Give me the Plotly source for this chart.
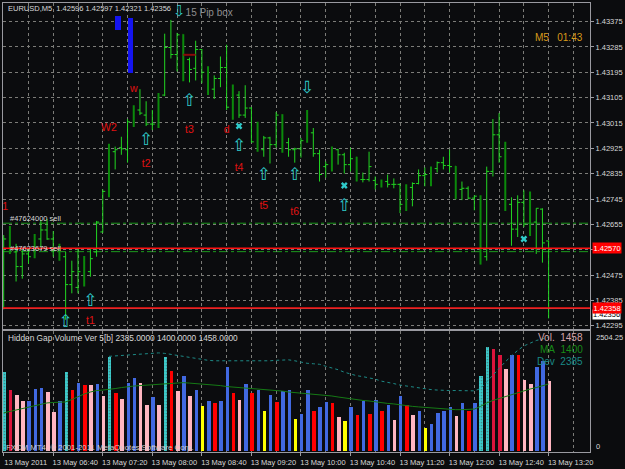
import plotly.graph_objects as go
import pandas as pd

# ---------------- data ----------------
times = pd.date_range("2011-05-13 06:00", periods=89, freq="5min")

open_ = [1.42568, 1.42603, 1.42557, 1.42505, 1.42550, 1.42540, 1.42603, 1.42635, 1.42603, 1.42561,
         1.42540, 1.42441, 1.42431, 1.42487, 1.42487, 1.42557, 1.42628, 1.42772, 1.42913, 1.42927,
         1.42920, 1.43019, 1.43061, 1.43043, 1.43011, 1.43008, 1.43114, 1.43283, 1.43258, 1.43328,
         1.43240, 1.43209, 1.43276, 1.43195, 1.43135, 1.43173, 1.43212, 1.43071, 1.43114, 1.43043,
         1.43068, 1.42948, 1.42920, 1.42962, 1.42938, 1.43043, 1.42945, 1.42920, 1.42923, 1.42948,
         1.42980, 1.42906, 1.42860, 1.42867, 1.42920, 1.42902, 1.42867, 1.42892, 1.42814, 1.42814,
         1.42811, 1.42797, 1.42807, 1.42797, 1.42797, 1.42726, 1.42786, 1.42800, 1.42828, 1.42832,
         1.42853, 1.42874, 1.42864, 1.42860, 1.42779, 1.42783, 1.42748, 1.42755, 1.42540, 1.42843,
         1.42973, 1.42895, 1.42726, 1.42638, 1.42733, 1.42733, 1.42663, 1.42709, 1.42596]
high = [1.42617, 1.42649, 1.42586, 1.42565, 1.42568, 1.42621, 1.42670, 1.42674, 1.42631, 1.42586,
        1.42557, 1.42526, 1.42568, 1.42543, 1.42568, 1.42667, 1.42779, 1.42941, 1.42931, 1.42966,
        1.43029, 1.43078, 1.43135, 1.43092, 1.43061, 1.43121, 1.43332, 1.43381, 1.43335, 1.43330,
        1.43247, 1.43307, 1.43278, 1.43216, 1.43184, 1.43251, 1.43293, 1.43152, 1.43128, 1.43149,
        1.43071, 1.43019, 1.42969, 1.42966, 1.43054, 1.43046, 1.42962, 1.42927, 1.42962, 1.43061,
        1.42997, 1.42920, 1.42878, 1.42931, 1.42923, 1.42909, 1.42927, 1.42895, 1.42839, 1.42913,
        1.42825, 1.42814, 1.42832, 1.42818, 1.42800, 1.42797, 1.42804, 1.42850, 1.42857, 1.42860,
        1.42878, 1.42895, 1.42920, 1.42862, 1.42807, 1.42790, 1.42758, 1.42758, 1.42860, 1.43029,
        1.43050, 1.42948, 1.42751, 1.42758, 1.42776, 1.42772, 1.42712, 1.42712, 1.42597]
low = [1.42353, 1.42550, 1.42452, 1.42462, 1.42515, 1.42535, 1.42568, 1.42600, 1.42540, 1.42526,
       1.42316, 1.42410, 1.42410, 1.42434, 1.42469, 1.42540, 1.42625, 1.42751, 1.42850, 1.42902,
       1.42874, 1.43001, 1.43043, 1.43004, 1.42990, 1.42997, 1.43110, 1.43244, 1.43198, 1.43163,
       1.43159, 1.43166, 1.43156, 1.43114, 1.43100, 1.43142, 1.43061, 1.43026, 1.43033, 1.43033,
       1.42945, 1.42913, 1.42895, 1.42871, 1.42927, 1.42909, 1.42895, 1.42874, 1.42892, 1.42945,
       1.42895, 1.42807, 1.42821, 1.42843, 1.42867, 1.42835, 1.42843, 1.42807, 1.42804, 1.42807,
       1.42779, 1.42786, 1.42786, 1.42783, 1.42695, 1.42702, 1.42719, 1.42797, 1.42790, 1.42790,
       1.42839, 1.42850, 1.42839, 1.42744, 1.42741, 1.42744, 1.42705, 1.42512, 1.42526, 1.42825,
       1.42874, 1.42702, 1.42579, 1.42610, 1.42645, 1.42614, 1.42550, 1.42519, 1.42321]
close = [1.42603, 1.42568, 1.42505, 1.42550, 1.42540, 1.42603, 1.42635, 1.42603, 1.42561, 1.42540,
         1.42441, 1.42487, 1.42487, 1.42452, 1.42533, 1.42663, 1.42772, 1.42920, 1.42920, 1.42923,
         1.43019, 1.43061, 1.43050, 1.43011, 1.43011, 1.43114, 1.43283, 1.43258, 1.43328, 1.43237,
         1.43205, 1.43276, 1.43195, 1.43135, 1.43173, 1.43212, 1.43071, 1.43138, 1.43043, 1.43068,
         1.42948, 1.42920, 1.42962, 1.42938, 1.43043, 1.42941, 1.42920, 1.42923, 1.42952, 1.42980,
         1.42906, 1.42832, 1.42867, 1.42920, 1.42902, 1.42867, 1.42888, 1.42814, 1.42814, 1.42860,
         1.42797, 1.42807, 1.42797, 1.42797, 1.42726, 1.42786, 1.42800, 1.42828, 1.42832, 1.42853,
         1.42874, 1.42864, 1.42860, 1.42779, 1.42783, 1.42748, 1.42755, 1.42515, 1.42843, 1.42973,
         1.42895, 1.42726, 1.42638, 1.42733, 1.42656, 1.42663, 1.42712, 1.42589, 1.42356]

volume = [1656, 1263, 1159, 1035, 1049, 1298, 1304, 1221, 822, 1035,
          1650, 1283, 1422, 1387, 1372, 1401, 1145, 1967, 1215, 1083,
          1422, 1532, 1422, 952, 1132, 952, 1967, 1677, 1248, 1567,
          1145, 1277, 938, 1035, 1000, 1049, 1753, 1215, 1056, 1408,
          1201, 1283, 842, 1159, 1014, 1248, 1263, 669, 772, 1283,
          828, 917, 1014, 1000, 718, 627, 917, 760, 1035, 772,
          1062, 828, 958, 642, 1145, 952, 745, 834, 470, 559,
          787, 842, 917, 725, 1000, 842, 994, 1567, 2167, 2132,
          2008, 1718, 2008, 2008, 1476, 1408, 1760, 1877, 1458]
vol_class = ["cyan", "crimson", "pink", "pink", "blue", "blue", "blue", "pink", "pink", "blue",
             "cyan", "red", "blue", "red", "pink", "blue", "pink", "cyan", "red", "pink",
             "blue", "blue", "pink", "pink", "blue", "pink", "cyan", "red", "pink", "blue",
             "pink", "blue", "yellow", "blue", "red", "blue", "blue", "red", "pink", "blue",
             "red", "blue", "yellow", "blue", "red", "blue", "blue", "yellow", "blue", "blue",
             "red", "blue", "blue", "red", "pink", "yellow", "blue", "red", "blue", "red",
             "blue", "red", "blue", "pink", "blue", "red", "pink", "blue", "yellow", "blue",
             "blue", "blue", "blue", "pink", "blue", "red", "blue", "cyan", "cyan", "crimson",
             "crimson", "pink", "blue", "red", "pink", "pink", "blue", "blue", "pink"]
vol_ma = [797, 828, 859, 890, 921, 952, 983, 1004, 1014, 1014,
          1025, 1076, 1139, 1190, 1232, 1263, 1273, 1283, 1304, 1325,
          1346, 1356, 1366, 1377, 1387, 1397, 1408, 1418, 1428, 1428,
          1418, 1408, 1408, 1387, 1377, 1366, 1346, 1335, 1325, 1314,
          1304, 1294, 1294, 1283, 1263, 1252, 1232, 1221, 1211, 1201,
          1190, 1180, 1159, 1149, 1128, 1107, 1087, 1066, 1056, 1045,
          1025, 1014, 994, 983, 963, 942, 932, 921, 911, 890,
          880, 869, 863, 863, 863, 869, 876, 932, 1004, 1056,
          1097, 1128, 1180, 1221, 1263, 1294, 1325, 1356, 1400]
vol_dev = [None] * 17 + [1977, 1987, 1998,
           2008, 2018, 2029, 2039, 2049, 2049, 2039, 2018, 1998, 1977,
           1956, 1925, 1904, 1894, 1884, 1884, 1877, 1877, 1877, 1877,
           1877, 1877, 1877, 1884, 1894, 1904, 1904, 1884, 1853, 1832,
           1822, 1811, 1770, 1739, 1698, 1646, 1604, 1573, 1553, 1532,
           1501, 1459, 1439, 1408, 1377, 1356, 1346, 1325, 1304, 1283,
           1273, 1263, 1263, 1263, 1259, 1256, 1256, 1304, 1449, 1594,
           1739, 1863, 1987, 2101, 2194, 2256, 2308, 2339, 2385]

# axis ticks
label_times = ["2011-05-13 06:00", "2011-05-13 06:40", "2011-05-13 07:20", "2011-05-13 08:00",
               "2011-05-13 08:40", "2011-05-13 09:20", "2011-05-13 10:00", "2011-05-13 10:40",
               "2011-05-13 11:20", "2011-05-13 12:00", "2011-05-13 12:40", "2011-05-13 13:20"]
label_text = ["13 May 2011", "13 May 06:40", "13 May 07:20", "13 May 08:00", "13 May 08:40",
              "13 May 09:20", "13 May 10:00", "13 May 10:40", "13 May 11:20", "13 May 12:00",
              "13 May 12:40", "13 May 13:20"]
price_ticks = [1.42295, 1.42385, 1.42475, 1.42565, 1.42655, 1.42745, 1.42835, 1.42925,
               1.43015, 1.43105, 1.43195, 1.43285, 1.43375]
price_tick_text = ["1.42295", "1.42385", "1.42475", "", "1.42655", "1.42745", "1.42835",
                   "1.42925", "1.43015", "1.43105", "1.43195", "1.43285", "1.43375"]

# signal texts (bar number, price)
sig_text = ["w", "W2", "t1", "t2", "t3", "d", "t4", "t5", "t6", "/1"]
sig_bar = [22, 18, 15, 24, 31, 37, 39, 43, 48, 1]
sig_price = [1.43135, 1.42997, 1.42311, 1.42867, 1.42990, 1.42990, 1.42853, 1.42719, 1.42698, 1.42716]

up_bar = [24, 31, 39, 43, 48, 56, 15, 11]
up_price = [1.42952, 1.43092, 1.42931, 1.42828, 1.42828, 1.42719, 1.42381, 1.42305]
down_bar = [50]
down_price = [1.43138]
star_bar = [39, 56, 85]
star_price = [1.43004, 1.42793, 1.42603]

box_bar = [19, 21]
box_low = [1.43346, 1.43191]
box_high = [1.43395, 1.43388]

mark_bars = [30, 32]
mark_level = 1.43257

red_levels = [1.42570, 1.42358]
order_levels = [1.42659, 1.42558]
order_labels = ["#47624000 sell", "#47623679 sell"]
bid = close[-1]

# ---------------- styling ----------------
BG = "#0b0c0e"
LIME = "#22d622"
DARK = "#0b8a0b"
CYAN = "#2fcaca"
GRID = "#7c7c78"
FRAME = "#9a9aa0"
TXT = "#d8d8d8"
FONT = "Liberation Sans"
vol_colors = {"cyan": "#3ccccc", "crimson": "#dc143c", "pink": "#ffb6c1",
              "blue": "#4169e1", "red": "#ff0000", "yellow": "#ffff00"}

t_start = pd.Timestamp("2011-05-13 05:59:26")
t_end = pd.Timestamp("2011-05-13 13:53:24")

fig = go.Figure()

thin = [i for i in range(len(times)) if (i + 1) % 4 != 2]
thick = [i for i in range(len(times)) if (i + 1) % 4 == 2]


def pick(a, idx):
    return [a[i] for i in idx]


fig.add_trace(go.Ohlc(x=pick(times, thin), open=pick(open_, thin), high=pick(high, thin),
                      low=pick(low, thin), close=pick(close, thin), tickwidth=0.4,
                      increasing=dict(line=dict(color=LIME, width=1)),
                      decreasing=dict(line=dict(color=LIME, width=1)),
                      xaxis="x", yaxis="y", hoverinfo="skip"))
fig.add_trace(go.Ohlc(x=pick(times, thick), open=pick(open_, thick), high=pick(high, thick),
                      low=pick(low, thick), close=pick(close, thick), tickwidth=0.1,
                      increasing=dict(line=dict(color=DARK, width=2)),
                      decreasing=dict(line=dict(color=DARK, width=2)),
                      xaxis="x", yaxis="y", hoverinfo="skip"))

# blue boxes
fig.add_trace(go.Bar(x=[times[b - 1] for b in box_bar],
                     y=[h - l for h, l in zip(box_high, box_low)], base=box_low,
                     width=280000, offset=0, marker=dict(color="#1414f0", line=dict(width=0)),
                     xaxis="x", yaxis="y", hoverinfo="skip"))
# dark red mark
fig.add_trace(go.Scatter(x=[times[b - 1] for b in mark_bars], y=[mark_level, mark_level],
                         mode="lines", line=dict(color="#8b0a0a", width=2),
                         xaxis="x", yaxis="y", hoverinfo="skip"))

# signal texts
fig.add_trace(go.Scatter(x=[times[b - 1] for b in sig_bar], y=sig_price, mode="text",
                         text=sig_text, textfont=dict(color="#e01212", size=10.5, family=FONT),
                         xaxis="x", yaxis="y", cliponaxis=True, hoverinfo="skip"))
fig.add_trace(go.Scatter(x=[times[b - 1] for b in up_bar], y=up_price, mode="text",
                         text=["\u21e7"] * len(up_bar),
                         textfont=dict(color=CYAN, size=17, family="DejaVu Sans"),
                         xaxis="x", yaxis="y", cliponaxis=True, hoverinfo="skip"))
fig.add_trace(go.Scatter(x=[times[b - 1] for b in down_bar], y=down_price, mode="text",
                         text=["\u21e9"] * len(down_bar),
                         textfont=dict(color=CYAN, size=17, family="DejaVu Sans"),
                         xaxis="x", yaxis="y", cliponaxis=True, hoverinfo="skip"))
fig.add_trace(go.Scatter(x=[times[b - 1] for b in star_bar], y=star_price, mode="markers",
                         marker=dict(symbol="x", size=6, color=CYAN, line=dict(width=0)),
                         xaxis="x", yaxis="y", hoverinfo="skip"))

# volume pane
fig.add_trace(go.Bar(x=times, y=volume, width=170000, offset=-50000,
                     marker=dict(color=[vol_colors[c] for c in vol_class], line=dict(width=0),
                                 pattern=dict(shape=["." if c == "cyan" else "" for c in vol_class],
                                              fgcolor="#1f9a9a", size=3, solidity=0.25)),
                     xaxis="x2", yaxis="y2", hoverinfo="skip"))
fig.add_trace(go.Scatter(x=times, y=vol_ma, mode="lines", line=dict(color="#157a15", width=1),
                         xaxis="x2", yaxis="y2", hoverinfo="skip"))
fig.add_trace(go.Scatter(x=times, y=vol_dev, mode="lines",
                         line=dict(color="#1d8a86", width=1, dash="dot"),
                         xaxis="x2", yaxis="y2", hoverinfo="skip"))

shapes = []
for lv in order_levels:
    shapes.append(dict(type="line", xref="x domain", yref="y", x0=0, x1=1, y0=lv, y1=lv,
                       line=dict(color="#1c9a1c", width=1, dash="dashdot"), layer="below"))
shapes.append(dict(type="line", xref="x domain", yref="y", x0=0, x1=1, y0=bid, y1=bid,
                   line=dict(color="#8a8a8a", width=1)))
for lv in red_levels:
    shapes.append(dict(type="line", xref="x domain", yref="y", x0=0, x1=1, y0=lv, y1=lv,
                       line=dict(color="#ff1010", width=1.5)))

ann = []
sm = dict(family=FONT, size=7.5, color=TXT)
ann.append(dict(xref="paper", yref="paper", x=0.005, y=0.9868, xanchor="left", yanchor="middle",
                text="EURUSD,M5\u00a0\u00a01.42596 1.42597 1.42321 1.42356", showarrow=False, font=sm))
ann.append(dict(xref="paper", yref="paper", x=0.287, y=0.9823, xanchor="left", yanchor="middle",
                text="<span style='color:%s;font-family:DejaVu Sans;font-size:15px'>\u21e9</span>15 Pip box" % CYAN,
                showarrow=False, font=dict(family=FONT, size=10, color="#8e8e8e")))
ann.append(dict(xref="paper", yref="paper", x=0.9916, y=0.9227, xanchor="right", yanchor="middle",
                text="M5\u00a0\u00a0\u00a001:43", showarrow=False,
                font=dict(family=FONT, size=10, color="#d89a1a")))
for lv, lab, ys in zip(order_levels, order_labels, [4.5, 3.5]):
    ann.append(dict(xref="paper", yref="y", x=0.0085, y=lv, yshift=ys, xanchor="left",
                    yanchor="middle", text=lab, showarrow=False, font=sm))
# price boxes on the right
ann.append(dict(xref="paper", yref="y", x=1, xshift=2, y=bid, yshift=-6, xanchor="left",
                yanchor="middle", text="%.5f" % bid, showarrow=False, bgcolor="#ffffff",
                borderpad=0, font=dict(family=FONT, size=7.5, color="#000000")))
for lv in red_levels:
    ann.append(dict(xref="paper", yref="y", x=1, xshift=2, y=lv, xanchor="left",
                    yanchor="middle", text="%.5f" % lv, showarrow=False, bgcolor="#ff0000",
                    borderpad=0.5, font=dict(family=FONT, size=7.5, color="#ffffff")))
# volume pane texts
ann.append(dict(xref="paper", yref="paper", x=0.005, y=0.2539, xanchor="left", yanchor="middle",
                text="Hidden Gap Volume Ver 5[b] %d.0000 %d.0000 %d.0000" %
                     (vol_dev[-1], vol_ma[-1], volume[-1]), showarrow=False,
                font=dict(family=FONT, size=8.3, color=TXT)))
for txt, col, yp in [("Vol.\u00a0\u00a0%d" % volume[-1], "#d6a4aa", 0.2539),
                     ("MA\u00a0\u00a0%d" % vol_ma[-1], "#178a17", 0.2274),
                     ("Dev\u00a0\u00a0%d" % vol_dev[-1], "#1a8a86", 0.2020)]:
    ann.append(dict(xref="paper", yref="paper", x=0.9916, y=yp, xanchor="right", yanchor="middle",
                    text=txt, showarrow=False, font=dict(family=FONT, size=10, color=col)))
ann.append(dict(xref="paper", yref="paper", x=0.002, y=0.0095, xanchor="left", yanchor="middle",
                text="FXCM MT4, \u00a9 2001-2011 MetaQuotes Software Corp.", showarrow=False,
                font=dict(family=FONT, size=7.8, color="#cfcfcf")))
ann.append(dict(xref="paper", yref="y2", x=1, xshift=4, y=2504.25, yshift=-6, xanchor="left",
                yanchor="middle", text="2504.25", showarrow=False, font=sm))
ann.append(dict(xref="paper", yref="y2", x=1, xshift=4, y=0, yshift=5, xanchor="left",
                yanchor="middle", text="0", showarrow=False, font=sm))

xcommon = dict(type="date", range=[t_start, t_end], showline=True, mirror=True,
               linecolor=FRAME, linewidth=1, showgrid=True, gridcolor=GRID, griddash="3px,3px",
               gridwidth=1, zeroline=False,
               minor=dict(tick0="2011-05-13 06:00", dtick=20 * 60 * 1000, showgrid=True,
                          gridcolor=GRID, griddash="3px,3px", gridwidth=1, ticks=""),
               tickmode="array", tickvals=label_times)

fig.update_layout(
    width=625, height=469, margin=dict(l=2, r=31, t=2, b=14),
    paper_bgcolor=BG, plot_bgcolor=BG, showlegend=False, bargap=0,
    xaxis=dict(**xcommon, domain=[0, 1], anchor="y", showticklabels=False, ticks="",
               rangeslider=dict(visible=False)),
    xaxis2=dict(**xcommon, domain=[0, 1], anchor="y2", ticktext=label_text, ticks="outside",
                ticklen=3, tickcolor=FRAME, ticklabelshift=22, tickfont=sm),
    yaxis=dict(domain=[0.27373, 1], anchor="x", side="right", range=[1.42283, 1.43441],
               tickmode="array", tickvals=price_ticks, ticktext=price_tick_text,
               showgrid=True, gridcolor=GRID, griddash="3px,3px", zeroline=False,
               showline=True, mirror=True, linecolor=FRAME, ticks="outside", ticklen=3,
               tickcolor=FRAME, tickfont=sm),
    yaxis2=dict(domain=[0, 0.26932], anchor="x2", side="right", range=[-20.7, 2504.7],
                showgrid=False, zeroline=False, showticklabels=False, showline=True,
                mirror=True, linecolor=FRAME, ticks=""),
    shapes=shapes, annotations=ann,
)

fig.write_html("out.html")
